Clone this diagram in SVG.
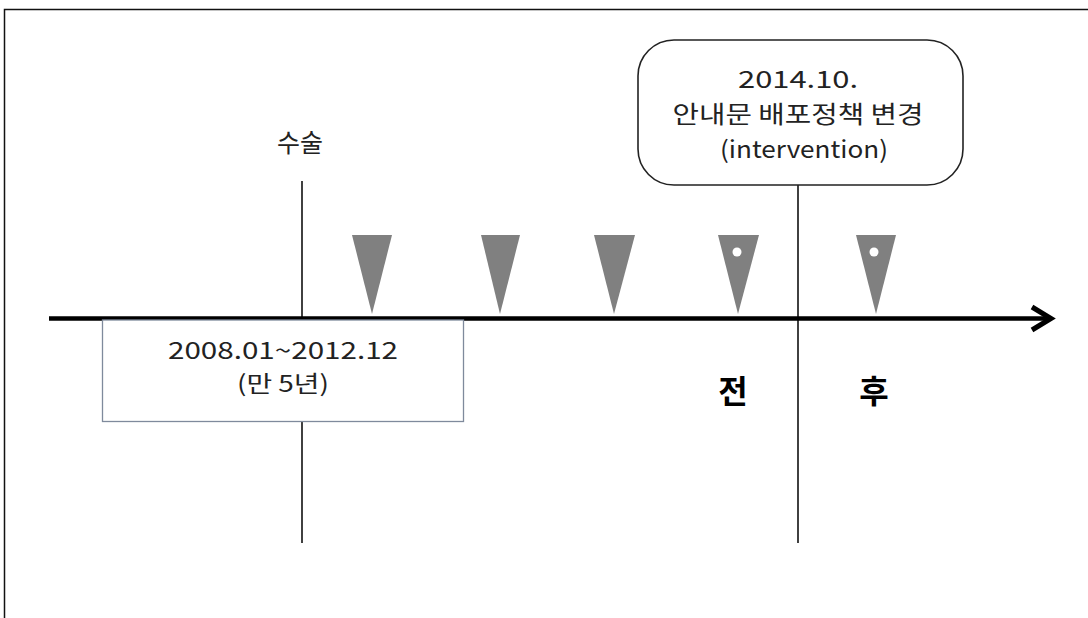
<svg xmlns="http://www.w3.org/2000/svg" width="1088" height="618" viewBox="0 0 1088 618">
<style>
.t{font-family:"Noto Sans CJK KR","Noto Sans",sans-serif;fill:#222;text-anchor:middle}
.b{font-weight:bold;fill:#000;font-size:32px}
.vl{stroke:#111;stroke-width:1.6;fill:none}
.tri{fill:#808080}
.dot{fill:#fff}
</style>
<rect width="1088" height="618" fill="#fff"/>
<path d="M4.5,620 V9.5 H1090" fill="none" stroke="#111" stroke-width="1.5"/>
<g id="connectors">
<line class="vl" x1="302" y1="181" x2="302" y2="543"/>
<line class="vl" x1="798" y1="185" x2="798" y2="543"/>
<line x1="49" y1="318.5" x2="1049" y2="318.5" stroke="#000" stroke-width="4.5"/>
<path d="M1032,307 L1051,318.5 L1032,330" fill="none" stroke="#000" stroke-width="5" stroke-linejoin="miter"/>
</g>
<g id="surgery">
<text class="t" x="300" y="152" font-size="25">수술</text>
</g>
<g id="period">
<rect x="102.5" y="320" width="361" height="101.5" fill="#fff" stroke="#7f8a9c" stroke-width="1.3"/>
<text class="t" x="283" y="359" font-size="23" textLength="230" lengthAdjust="spacingAndGlyphs">2008.01~2012.12</text>
<text class="t" x="283" y="392" font-size="23" textLength="92" lengthAdjust="spacingAndGlyphs">(만 5년)</text>
</g>
<g id="intervention">
<rect x="638" y="40" width="325" height="145" rx="36" fill="#fff" stroke="#222" stroke-width="1.6"/>
<text class="t" x="798" y="88" font-size="24" textLength="120" lengthAdjust="spacingAndGlyphs">2014.10.</text>
<text class="t" x="798" y="123" font-size="24" textLength="251" lengthAdjust="spacingAndGlyphs">안내문 배포정책 변경</text>
<text class="t" x="804" y="158" font-size="24" textLength="168" lengthAdjust="spacingAndGlyphs">(intervention)</text>
</g>
<g id="markers">
<polygon class="tri" points="352,235 392,235 372,314"/>
<polygon class="tri" points="481,235 520,235 500,314"/>
<polygon class="tri" points="594,235 635,235 614,314"/>
<polygon class="tri" points="718,235 759,235 738,314"/>
<circle class="dot" cx="737" cy="252" r="4.5"/>
<polygon class="tri" points="856,235 896,235 876,314"/>
<circle class="dot" cx="874" cy="252" r="4.5"/>
</g>
<g id="before"><text class="t b" x="733" y="403">전</text></g>
<g id="after"><text class="t b" x="874" y="403">후</text></g>
</svg>
